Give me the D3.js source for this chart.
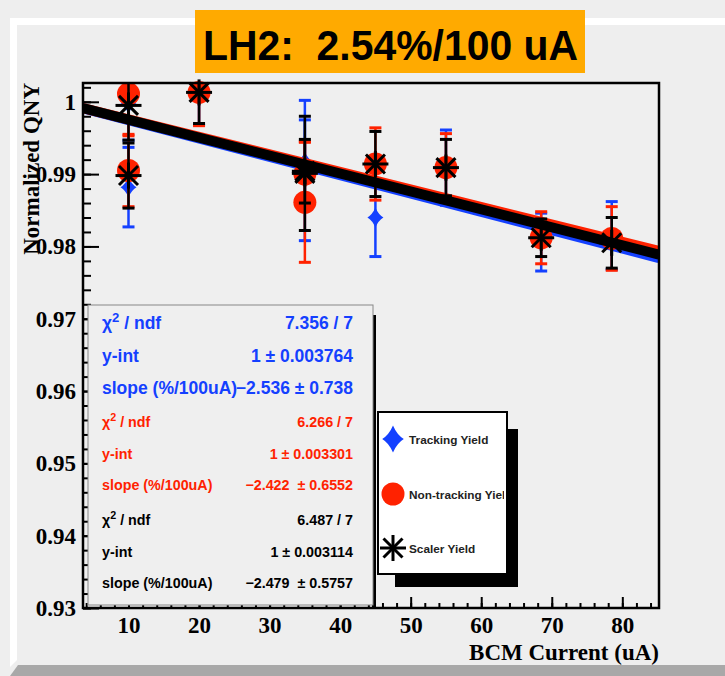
<!DOCTYPE html>
<html>
<head>
<meta charset="utf-8">
<script src="https://cdn.jsdelivr.net/npm/d3@7"></script>
<style>
body { margin: 0; background: #eeeeee; }
svg { display: block; }
</style>
</head>
<body>
<div id="chart"></div>
<script>
// BCM current of each run (uA)
var current = [10, 10, 20, 35, 35, 45, 55, 68.5, 78.5]

// normalized yields, with their errors
var trackYield = [0.9997, 0.9882, 1.0013, 0.9905, 0.9917, 0.9840, 0.9909, 0.9806, 0.9815]
var trackErr   = [0.0050, 0.0055, 0.0045, 0.0097, 0.0058, 0.0054, 0.0052, 0.0040, 0.0047]
var nonTrackYield = [1.0011, 0.9905, 1.0013, 0.9900, 0.9861, 0.9914, 0.9909, 0.9812, 0.9811]
var nonTrackErr   = [0.0058, 0.0050, 0.0046, 0.0045, 0.0083, 0.0050, 0.0047, 0.0036, 0.0044]
var scalerYield = [0.9995, 0.9898, 1.0013, 0.9901, 0.9904, 0.9914, 0.9909, 0.9812, 0.9805]
var scalerErr   = [0.0048, 0.0045, 0.0043, 0.0079, 0.0044, 0.0045, 0.0039, 0.0026, 0.0035]

// linear fits: y-int and slope in %/100uA
var seriesNames = ["Tracking Yield", "Non-tracking Yield", "Scaler Yield"]
var fitInt = [1, 1, 1]
var fitSlope = [-2.536, -2.422, -2.479]
var statChi = ["7.356 / 7", "6.266 / 7", "6.487 / 7"]
var statInt = ["1 \u00b1 0.003764", "1 \u00b1 0.003301", "1 \u00b1 0.003114"]
var statSlope = ["\u22122.536 \u00b1 0.738", "\u22122.422  \u00b1 0.6552", "\u22122.479  \u00b1 0.5757"]

var xTicks = [10, 20, 30, 40, 50, 60, 70, 80]
var yTicks = [0.93, 0.94, 0.95, 0.96, 0.97, 0.98, 0.99, 1]

var colors = ["#1440ff", "#ff2200", "#000000"]

var W = 725, H = 676
var frame = {left: 83, right: 659, top: 83, bottom: 608}

var svg = d3.select("#chart").append("svg")
    .attr("width", W)
    .attr("height", H)

// canvas with bevel
svg.append("rect").attr("width", W).attr("height", H).attr("fill", "#eeeeee")
svg.append("path")
    .attr("d", "M10,18 L730,18 L730,25 L17,25 L17,660 L10,667 Z")
    .attr("fill", "#ffffff")
svg.append("path")
    .attr("d", "M10,676 L18,665 L730,665 L730,680 L10,680 Z")
    .attr("fill", "#a8a8a8")

var x = d3.scaleLinear()
    .domain([3.55, 85.2])
    .range([frame.left, frame.right])
var y = d3.scaleLinear()
    .domain([0.93, 1.0026])
    .range([frame.bottom, frame.top])

var defs = svg.append("defs")
defs.append("clipPath")
    .attr("id", "frameclip")
    .append("rect")
    .attr("x", frame.left).attr("y", frame.top)
    .attr("width", frame.right - frame.left)
    .attr("height", frame.bottom - frame.top)

svg.append("rect")
    .attr("x", frame.left).attr("y", frame.top)
    .attr("width", frame.right - frame.left)
    .attr("height", frame.bottom - frame.top)
    .attr("fill", "#efefef")

var serif = "'Liberation Serif', 'Times New Roman', serif"
var sans = "'Liberation Sans', Arial, Helvetica, sans-serif"

// axes
svg.append("g")
    .attr("transform", "translate(" + frame.left + ",0)")
    .call(d3.axisLeft(y).tickValues(d3.range(0.93, 1.0026, 0.002)).tickSize(-8).tickFormat(""))
svg.append("g")
    .attr("transform", "translate(" + frame.left + ",0)")
    .call(d3.axisLeft(y).tickValues(yTicks).tickSize(-16).tickPadding(7)
        .tickFormat(d => d == 1 ? "1" : d3.format(".2f")(d)))
svg.append("g")
    .attr("transform", "translate(0," + frame.bottom + ")")
    .call(d3.axisBottom(x).tickValues(d3.range(4, 85.2, 2)).tickSize(-5).tickFormat(""))
svg.append("g")
    .attr("transform", "translate(0," + frame.bottom + ")")
    .call(d3.axisBottom(x).tickValues(xTicks).tickSize(-11).tickPadding(9))

svg.selectAll(".domain").remove()
svg.selectAll(".tick line").attr("stroke", "#000").attr("stroke-width", 2)
svg.selectAll(".tick text")
    .attr("fill", "#000")
    .style("font-family", serif)
    .style("font-weight", "bold")
    .style("font-size", "23px")

svg.append("text")
    .attr("transform", "translate(39," + frame.top + ") rotate(-90)")
    .attr("text-anchor", "end")
    .style("font-family", serif)
    .style("font-weight", "bold")
    .style("font-size", "23px")
    .text("Normalized QNY")

svg.append("text")
    .attr("x", frame.right)
    .attr("y", 660)
    .attr("text-anchor", "end")
    .style("font-family", serif)
    .style("font-weight", "bold")
    .style("font-size", "23px")
    .text("BCM Current (uA)")

// data, error bars, markers and fit line for each series
var yields = [trackYield, nonTrackYield, scalerYield]
var errs = [trackErr, nonTrackErr, scalerErr]

function drawMarker(g, kind, cx, cy, color, s) {
    s = s || 1
    if (kind == 0) {
        var w = 8 * s, h = 10 * s, c = 3 * s
        g.append("path")
            .attr("d", "M" + cx + "," + (cy - h) +
                " Q" + (cx + c) + "," + (cy - c) + " " + (cx + w) + "," + cy +
                " Q" + (cx + c) + "," + (cy + c) + " " + cx + "," + (cy + h) +
                " Q" + (cx - c) + "," + (cy + c) + " " + (cx - w) + "," + cy +
                " Q" + (cx - c) + "," + (cy - c) + " " + cx + "," + (cy - h) + " Z")
            .attr("fill", color)
    }
    else if (kind == 1) {
        g.append("circle")
            .attr("cx", cx).attr("cy", cy).attr("r", 11.5)
            .attr("fill", color)
    }
    else {
        var r = 13, d = 9.5
        var star = [[-r, 0, r, 0], [0, -r, 0, r], [-d, -d, d, d], [-d, d, d, -d]]
        star.forEach(a => {
            g.append("line")
                .attr("x1", cx + a[0]).attr("y1", cy + a[1])
                .attr("x2", cx + a[2]).attr("y2", cy + a[3])
                .attr("stroke", color)
                .attr("stroke-width", 3)
        })
    }
}

yields.forEach((vals, k) => {
    var g = svg.append("g")
    var eg = g.append("g").attr("clip-path", "url(#frameclip)")
    vals.forEach((v, i) => {
        var cx = x(current[i])
        var top = y(v + errs[k][i]), bot = y(v - errs[k][i])
        eg.append("line")
            .attr("x1", cx).attr("x2", cx)
            .attr("y1", top).attr("y2", bot)
            .attr("stroke", colors[k]).attr("stroke-width", 2.5)
        ;[top, bot].forEach(cy => {
            eg.append("line")
                .attr("x1", cx - 6).attr("x2", cx + 6)
                .attr("y1", cy).attr("y2", cy)
                .attr("stroke", colors[k]).attr("stroke-width", 3)
        })
    })
    vals.forEach((v, i) => {
        drawMarker(g, k, x(current[i]), y(v), colors[k])
    })
    var x0 = x.domain()[0], x1 = x.domain()[1]
    eg.append("line")
        .attr("x1", x(x0))
        .attr("y1", y(fitInt[k] * (1 + fitSlope[k] / 100 * x0 / 100)))
        .attr("x2", x(x1))
        .attr("y2", y(fitInt[k] * (1 + fitSlope[k] / 100 * x1 / 100)))
        .attr("stroke", colors[k])
        .attr("stroke-width", 10)
})

// frame border
svg.append("rect")
    .attr("x", frame.left).attr("y", frame.top)
    .attr("width", frame.right - frame.left)
    .attr("height", frame.bottom - frame.top)
    .attr("fill", "none")
    .attr("stroke", "#000")
    .attr("stroke-width", 2.5)

// stats box
svg.append("rect")
    .attr("x", 372).attr("y", 315).attr("width", 4).attr("height", frame.bottom - 315)
    .attr("fill", "#000")
svg.append("rect")
    .attr("x", 88).attr("y", 305).attr("width", 285).attr("height", 300)
    .attr("fill", "#efefef")
    .attr("stroke", "#888")
    .attr("stroke-width", 1)

colors.forEach((c, k) => {
    var labels = ["\u03c7", "y-int", "slope (%/100uA)"]
    var values = [statChi[k], statInt[k], statSlope[k]]
    var baseY = [329, 427, 525][k]
    var step = k == 0 ? 32.5 : 31.5
    var fs = k == 0 ? 17.5 : 14.3
    labels.forEach((lab, j) => {
        var t = svg.append("text")
            .attr("x", 102)
            .attr("y", baseY + j * step)
            .attr("fill", c)
            .style("font-family", sans)
            .style("font-weight", "bold")
            .style("font-size", fs + "px")
        if (j == 0) {
            t.append("tspan").text("\u03c7")
            t.append("tspan").attr("dy", -fs * 0.4).style("font-size", (fs * 0.75) + "px").text("2")
            t.append("tspan").attr("dy", fs * 0.4).style("white-space", "pre").text(" / ndf")
        }
        else {
            t.text(lab)
        }
        svg.append("text")
            .attr("x", 353)
            .attr("y", baseY + j * step)
            .attr("text-anchor", "end")
            .attr("fill", c)
            .style("font-family", sans)
            .style("font-weight", "bold")
            .style("font-size", fs + "px")
            .style("white-space", "pre")
            .text(values[j])
    })
})

// legend
var leg = {x: 378, y: 412, w: 129, h: 162}
svg.append("rect")
    .attr("x", 395).attr("y", 429).attr("width", 123).attr("height", 158)
    .attr("fill", "#000")
svg.append("rect")
    .attr("x", leg.x).attr("y", leg.y).attr("width", leg.w).attr("height", leg.h)
    .attr("fill", "#fff")
    .attr("stroke", "#000")
    .attr("stroke-width", 2)
defs.append("clipPath")
    .attr("id", "legclip")
    .append("rect")
    .attr("x", leg.x).attr("y", leg.y).attr("width", leg.w - 3).attr("height", leg.h)
var lg = svg.append("g")
var legY = [439, 494, 548]
seriesNames.forEach((name, k) => {
    drawMarker(lg, k, 393, legY[k], colors[k], 1.35)
    lg.append("text")
        .attr("x", 409)
        .attr("y", legY[k] + 4.5)
        .attr("clip-path", "url(#legclip)")
        .attr("fill", "#222")
        .style("font-family", sans)
        .style("font-weight", "bold")
        .style("font-size", "11.8px")
        .text(name)
})

// title box
svg.append("rect")
    .attr("x", 195).attr("y", 10).attr("width", 390).attr("height", 63)
    .attr("fill", "#ffaa00")
svg.append("text")
    .attr("x", 203)
    .attr("y", 60)
    .attr("textLength", 375)
    .attr("lengthAdjust", "spacingAndGlyphs")
    .style("font-family", sans)
    .style("font-weight", "bold")
    .style("font-size", "43px")
    .style("white-space", "pre")
    .text("LH2:  2.54%/100 uA")
</script>
</body>
</html>
